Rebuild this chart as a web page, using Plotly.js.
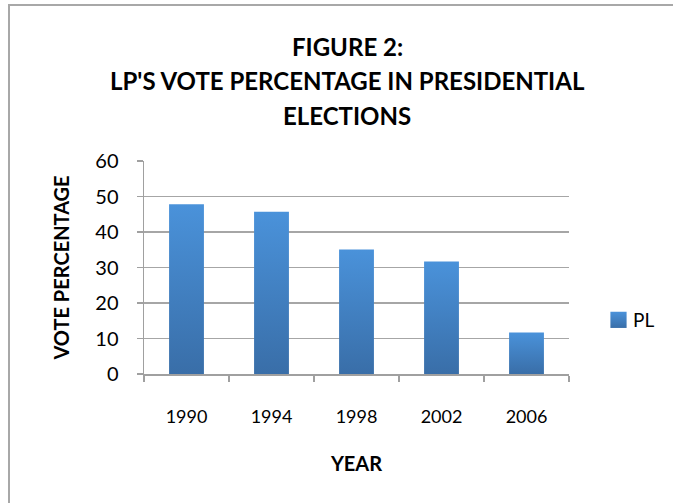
<!DOCTYPE html>
<html>
<head>
<meta charset="utf-8">
<script src="https://cdn.plot.ly/plotly-3.0.1.min.js"></script>
<style>
  html, body { margin: 0; padding: 0; background: #ffffff; overflow: hidden; }
  #wrap { position: relative; width: 673px; height: 503px; overflow: hidden; }
  #chart { width: 673px; height: 503px; }
  /* chart frame: only the top and left edges fall inside the page */
  #frame {
    position: absolute; left: 8px; top: 4px; right: 0; bottom: 0;
    border-left: 2.5px solid #a8a8a8; border-top: 2px solid #a8a8a8;
    pointer-events: none;
  }
</style>
</head>
<body>
<div id="wrap">
  <div id="chart"></div>
  <div id="frame"></div>
</div>
<script>
// Election years and the LP's share of the presidential vote (%)
const years = ['1990', '1994', '1998', '2002', '2006'];
const votePct = [47.8, 45.7, 35.1, 31.7, 11.7];
const seriesName = 'PL';
const yTicks = [0, 10, 20, 30, 40, 50, 60];
const titleLines = ['FIGURE 2:', "LP'S VOTE PERCENTAGE IN PRESIDENTIAL", 'ELECTIONS'];

const W = 673, H = 503;
const M = { l: 144, r: 104, t: 161, b: 129, autoexpand: false };
const plotW = W - M.l - M.r, plotH = H - M.t - M.b;
// convert page pixels to paper coordinates
const px = x => (x - M.l) / plotW;
const py = y => (H - M.b - y) / plotH;

const font = 'Lato, "Open Sans", "Liberation Sans", sans-serif';
const gray = '#a0a0a0';

const data = [{
  type: 'bar',
  x: years,
  y: votePct,
  name: seriesName,
  marker: { color: '#4280c6', line: { width: 0 } },
  hoverinfo: 'x+y'
}];

// three centred title lines
const titleY = [46, 81, 115];
const annotations = titleLines.map((t, i) => ({
  text: '<b>' + t + '</b>',
  xref: 'paper', yref: 'paper',
  x: px(347), y: py(titleY[i]),
  xanchor: 'center', yanchor: 'middle',
  showarrow: false,
  font: { family: font, size: 24, color: '#000000' }
}));

const layout = {
  width: W,
  height: H,
  margin: M,
  paper_bgcolor: '#ffffff',
  plot_bgcolor: '#ffffff',
  font: { family: font, color: '#000000', size: 17 },
  bargap: 0.59,
  showlegend: true,
  legend: {
    x: px(593), y: py(320), xanchor: 'left', yanchor: 'middle',
    font: { family: font, size: 19, color: '#000000' },
    bgcolor: 'rgba(0,0,0,0)'
  },
  annotations: annotations,
  xaxis: {
    type: 'category',
    automargin: false,
    showline: true, linecolor: gray, linewidth: 1.5,
    ticks: 'outside', tickson: 'boundaries', ticklen: 6, tickcolor: gray, tickwidth: 1.5,
    showgrid: false,
    ticklabelstandoff: 26,
    tickfont: { family: font, size: 18, color: '#000000' },
    title: { text: '<b>YEAR</b>', font: { family: font, size: 20, color: '#000000' }, standoff: 31 },
    fixedrange: true
  },
  yaxis: {
    range: [0, 60],
    automargin: false,
    tickvals: yTicks,
    showline: true, linecolor: gray, linewidth: 1.5,
    ticks: 'outside', ticklen: 6, tickcolor: gray, tickwidth: 1.5,
    showgrid: true, gridcolor: '#a6a6a6', gridwidth: 1.4,
    zeroline: false,
    ticklabelstandoff: 14,
    tickfont: { family: font, size: 20, color: '#000000' },
    title: { text: '<b>VOTE PERCENTAGE</b>', font: { family: font, size: 20, color: '#000000' }, standoff: 20 },
    fixedrange: true
  }
};

Plotly.newPlot('chart', data, layout, { displayModeBar: false, staticPlot: true }).then(gd => {
  // vertical gradient fill for the bars and the legend swatch
  const svg = gd.querySelector('svg.main-svg');
  const ns = 'http://www.w3.org/2000/svg';
  let defs = svg.querySelector('defs');
  if (!defs) { defs = document.createElementNS(ns, 'defs'); svg.insertBefore(defs, svg.firstChild); }
  const grad = document.createElementNS(ns, 'linearGradient');
  grad.setAttribute('id', 'barGrad');
  grad.setAttribute('x1', '0'); grad.setAttribute('y1', '0');
  grad.setAttribute('x2', '0'); grad.setAttribute('y2', '1');
  [['0%', '#4a92da'], ['100%', '#396ea8']].forEach(([o, c]) => {
    const s = document.createElementNS(ns, 'stop');
    s.setAttribute('offset', o); s.setAttribute('stop-color', c);
    grad.appendChild(s);
  });
  defs.appendChild(grad);
  gd.querySelectorAll('.barlayer .point path').forEach(p => {
    p.style.fill = 'url(#barGrad)';
  });
  // larger legend swatch sitting closer to its label
  gd.querySelectorAll('.legend .legendpoints path').forEach(p => {
    p.style.fill = 'url(#barGrad)';
    const t = p.getAttribute('transform') || '';
    p.setAttribute('transform', t + ' translate(5.5,0) scale(1.35)');
  });
});
</script>
</body>
</html>
